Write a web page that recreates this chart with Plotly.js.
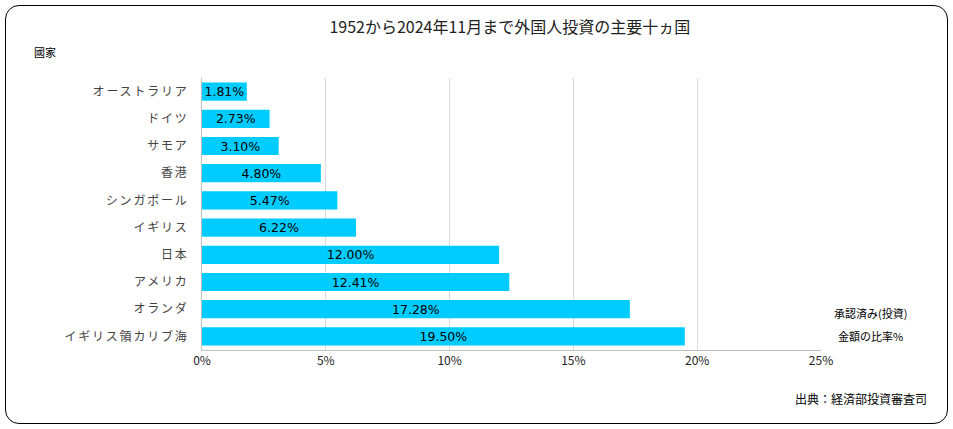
<!DOCTYPE html>
<html><head><meta charset="utf-8">
<script src="https://cdn.plot.ly/plotly-3.0.1.min.js"></script>
<style>
body{margin:0;padding:0;background:#fff;}
#wrap{position:relative;width:953px;height:429px;}
#chart{width:953px;height:429px;}
#frame{position:absolute;left:5px;top:5px;width:941px;height:417px;border:1.5px solid #000;border-radius:14px;pointer-events:none;}
#chart .ytick text{letter-spacing:1.8px;}
</style></head>
<body>
<div id="wrap"><div id="chart"></div><div id="frame"></div></div>
<script>
const countries = ["オーストラリア","ドイツ","サモア","香港","シンガポール","イギリス","日本","アメリカ","オランダ","イギリス領カリブ海"];
const shares = [1.81,2.73,3.10,4.80,5.47,6.22,12.00,12.41,17.28,19.50];
const tickVals = [0,5,10,15,20,25];
const tickText = ["0%","5%","10%","15%","20%","25%"];
const FONT = "Noto Sans CJK JP, sans-serif";
const LFONT = "DejaVu Sans, Noto Sans CJK JP, sans-serif";

Plotly.newPlot("chart", [{
  type:"bar", orientation:"h",
  y: countries, x: shares,
  marker:{color:"#00CCFF"},
  text: shares.map(v=>v.toFixed(2)+"%"),
  textposition:"inside", insidetextanchor:"middle", constraintext:"none", cliponaxis:false,
  textfont:{family:LFONT, size:12.5, color:"#000"},
  hoverinfo:"none"
}], {
  width:953, height:429,
  margin:{l:202, r:132, t:78, b:79},
  paper_bgcolor:"#fff", plot_bgcolor:"#fff",
  bargap:0.33,
  showlegend:false,
  font:{family:FONT, color:"#333"},
  title:{text:"1952から2024年11月まで外国人投資の主要十ヵ国", x:0.535, xanchor:"center", y:0.935, yanchor:"middle", font:{family:FONT, size:16, color:"#222"}},
  xaxis:{range:[0,25], tickvals:tickVals, ticktext:tickText, showgrid:true, gridcolor:"#d9d9d9", gridwidth:1,
    zeroline:false, showline:true, linecolor:"#bfbfbf", ticks:"", tickfont:{family:FONT, size:12, color:"#222"}, fixedrange:true},
  yaxis:{autorange:"reversed", showline:true, linecolor:"#bfbfbf", ticks:"", ticklabelstandoff:10, tickfont:{family:FONT, size:12, color:"#444"}, fixedrange:true},
  annotations:[
    {text:"國家", xref:"paper", yref:"paper", x:-0.275, y:1.097, xanchor:"left", yanchor:"middle", showarrow:false, font:{family:FONT, size:11, color:"#000"}},
    {text:"承認済み(投資)", xref:"paper", yref:"paper", x:1.08, y:0.135, xanchor:"center", yanchor:"middle", showarrow:false, font:{family:FONT, size:11, color:"#000"}},
    {text:"金額の比率%", xref:"paper", yref:"paper", x:1.08, y:0.05, xanchor:"center", yanchor:"middle", showarrow:false, font:{family:FONT, size:11, color:"#000"}},
    {text:"出典：経済部投資審査司", xref:"paper", yref:"paper", x:1.065, y:-0.18, xanchor:"center", yanchor:"middle", showarrow:false, font:{family:FONT, size:12, color:"#000"}}
  ]
}, {displayModeBar:false, staticPlot:true});
</script>
</body></html>
